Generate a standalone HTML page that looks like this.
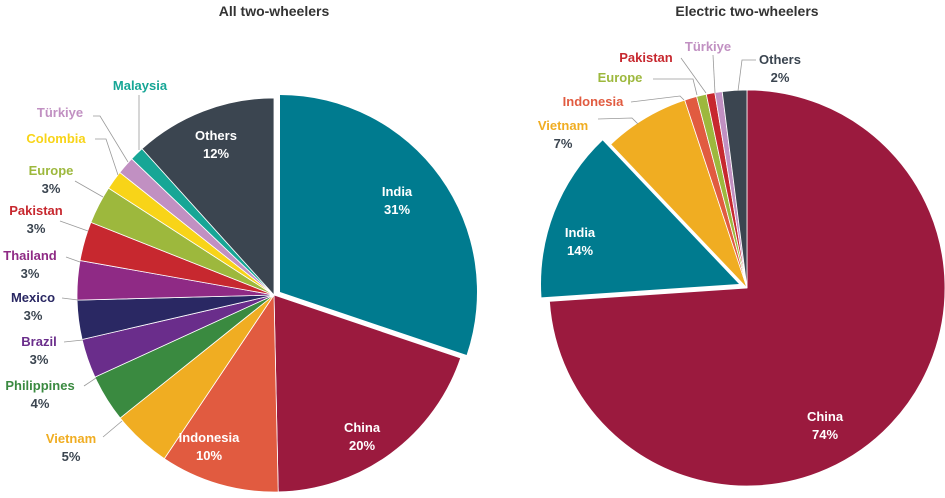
<!DOCTYPE html>
<html><head><meta charset="utf-8"><style>
body{margin:0;background:#fff;width:945px;height:493px;overflow:hidden;font-family:"Liberation Sans",sans-serif}
svg text{font-family:"Liberation Sans",sans-serif;font-weight:bold}
</style></head><body>
<svg id="c" width="945" height="493">
<text x="274" y="16" text-anchor="middle" font-size="14" fill="#333">All two-wheelers</text>
<text x="747" y="16" text-anchor="middle" font-size="14" fill="#333">Electric two-wheelers</text>
</svg>
<script>
const leftCats=["India","China","Indonesia","Vietnam","Philippines","Brazil","Mexico","Thailand","Pakistan","Europe","Colombia","Türkiye","Malaysia","Others"];
const leftVals=[31,20,10,5,4,3.3,3.3,3.3,3.3,3.2,1.6,1.5,1.2,12];
const leftLabels=["31%","20%","10%","5%","4%","3%","3%","3%","3%","3%","","","","12%"];
const rightCats=["China","India","Vietnam","Indonesia","Europe","Pakistan","Türkiye","Others"];
const rightVals=[74,14,7,1,0.8,0.7,0.6,2];
const rightLabels=["74%","14%","7%","","","","","2%"];
const colors={"India":"#007b8f","China":"#9b1a3e","Indonesia":"#e15b40","Vietnam":"#f0ad22","Philippines":"#3a8a40","Brazil":"#6a2d8b","Mexico":"#2a2863","Thailand":"#8f2a85","Pakistan":"#c7282f","Europe":"#9db83d","Colombia":"#f8d418","Türkiye":"#c190c2","Malaysia":"#17a696","Others":"#3b4550"};
const NS="http://www.w3.org/2000/svg";
const svg=document.getElementById('c');
function mk(t,a){const e=document.createElementNS(NS,t);for(const k in a)e.setAttribute(k,a[k]);svg.appendChild(e);return e;}
function pt(cx,cy,r,f){const a=f*2*Math.PI;return [cx+r*Math.sin(a),cy-r*Math.cos(a)];}
function pie(cats,vals,cx,cy,r,explode,expOff,prefix){
  const tot=vals.reduce((a,b)=>a+b,0);let acc=0;
  cats.forEach((c,i)=>{
    const f0=acc/tot,f1=(acc+vals[i])/tot;acc+=vals[i];
    let ox=0,oy=0;if(c===explode){ox=expOff[0];oy=expOff[1];}
    const p0=pt(cx+ox,cy+oy,r,f0),p1=pt(cx+ox,cy+oy,r,f1);
    const large=(f1-f0)>0.5?1:0;
    const p=mk('path',{d:`M${cx+ox},${cy+oy}L${p0[0]},${p0[1]}A${r},${r} 0 ${large} 1 ${p1[0]},${p1[1]}Z`,fill:colors[c],stroke:'#fff','stroke-width':c===explode?0:0.8});
    
    
  });
}
pie(leftCats,leftVals,274,295,197,"India",[6,-3],"all");
pie(rightCats,rightVals,747,288,198,"India",[-8,-4],"electric");
function lbl(x,y,name,pct,col,pcol,anchor,prefix){
  const t=mk('text',{x:x,y:y,'font-size':13,fill:col,'text-anchor':anchor||'middle'});
  t.textContent=name;
  
  
  if(pct){const u=mk('text',{x:x,y:y+18,'font-size':13,fill:pcol,'text-anchor':anchor||'middle'});u.textContent=pct;
  
  }
}
function line(pts){const l=mk('polyline',{points:pts,fill:'none',stroke:'#999','stroke-width':0.8});

}
const W="#fff",D="#3b4550";
// left inner
lbl(397,196,"India",leftLabels[0],W,W,'middle','all');
lbl(362,432,"China",leftLabels[1],W,W,'middle','all');
lbl(209,442,"Indonesia",leftLabels[2],W,W,'middle','all');
lbl(216,140,"Others",leftLabels[13],W,W,'middle','all');
// left outer
lbl(140,90,"Malaysia","",colors.Malaysia,D,'middle','all');line("139,95 139,150");
lbl(60,117,"Türkiye","",colors["Türkiye"],D,'middle','all');line("93,116 100,116 128,162");
lbl(56,143,"Colombia","",colors.Colombia,D,'middle','all');line("95,139 106,139 118,175");
lbl(51,175,"Europe",leftLabels[9],colors.Europe,D,'middle','all');line("75,181 103,197");
lbl(36,215,"Pakistan",leftLabels[8],colors.Pakistan,D,'middle','all');line("60,221 88,231");
lbl(30,260,"Thailand",leftLabels[7],colors.Thailand,D,'middle','all');line("66,257 80,262");
lbl(33,302,"Mexico",leftLabels[6],colors.Mexico,D,'middle','all');line("62,298 78,300");
lbl(39,346,"Brazil",leftLabels[5],colors.Brazil,D,'middle','all');line("64,342 83,340");
lbl(40,390,"Philippines",leftLabels[4],colors.Philippines,D,'middle','all');line("84,386 96,378");
lbl(71,443,"Vietnam",leftLabels[3],colors.Vietnam,D,'middle','all');line("103,437 122,421");
// right inner
lbl(580,237,"India",rightLabels[1],W,W,'middle','electric');
lbl(825,421,"China",rightLabels[0],W,W,'middle','electric');
// right outer
lbl(563,130,"Vietnam",rightLabels[2],colors.Vietnam,D,'middle','electric');line("598,119 632,118 638,124");
lbl(593,106,"Indonesia","",colors.Indonesia,D,'middle','electric');line("631,102 680,96 684,100");
lbl(620,82,"Europe","",colors.Europe,D,'middle','electric');line("653,79 693,79 697,95");
lbl(646,62,"Pakistan","",colors.Pakistan,D,'middle','electric');line("681,58 706,93");
lbl(708,51,"Türkiye","",colors["Türkiye"],D,'middle','electric');line("713,55 715,93");
lbl(780,64,"Others",rightLabels[7],D,D,'middle','electric');line("756,60 742,60 738,91");
</script>
</body></html>
